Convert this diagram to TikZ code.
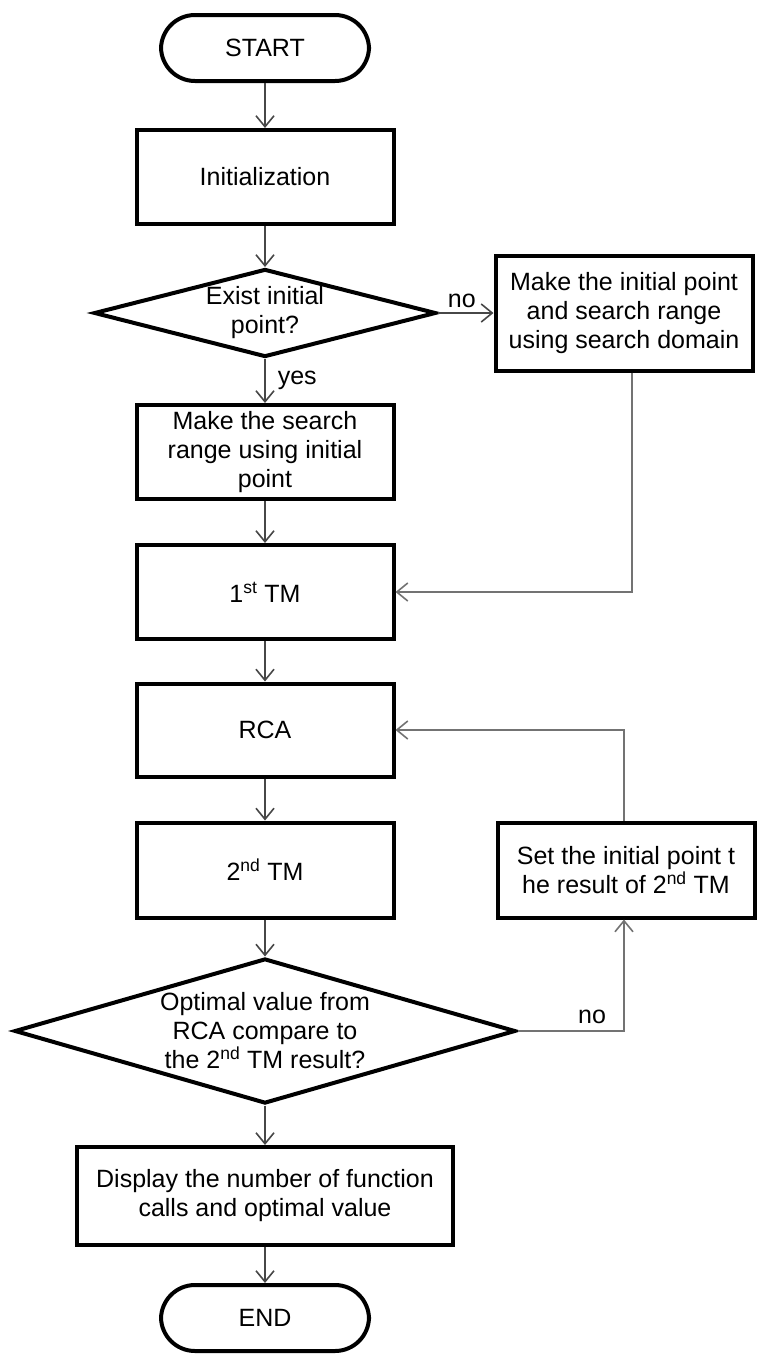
\documentclass[tikz,border=0pt]{standalone}
\usepackage{fontspec}
\setmainfont{Liberation Sans}
\usetikzlibrary{shapes.geometric,arrows.meta}
\tikzset{
  base/.style={draw=black, line width=4pt, font=\fontsize{25}{29}\selectfont, align=center, inner sep=0pt, text=black},
  procbox/.style={base, rectangle, minimum width=#1},
  procbox/.default=257pt,
  term/.style={base, rectangle, rounded corners=34pt, minimum width=208pt, minimum height=66pt},
  decision/.style={base, diamond},
  conn/.style={draw=black!72, line width=1.6pt, -{Straight Barb[length=11pt,width=18pt,line width=1.6pt]}},
  sideconn/.style={conn, draw=black!55},
  lbl/.style={font=\fontsize{25}{29}\selectfont, text=black, inner sep=0pt}
}
\begin{document}
\begin{tikzpicture}[x=1pt,y=-1pt]
\useasboundingbox (0,0) rectangle (759,1355);
\node[term] (start) at (265,48) {START};
\node[procbox, minimum height=94pt] (init) at (265,177) {Initialization};
\node[decision, aspect=3.76, minimum width=342pt, minimum height=88pt] (d1) at (265,313) {Exist initial\\point?};
\node[procbox, minimum height=115pt] (r1) at (624,313) {Make the initial point\\and search range\\using search domain};
\node[procbox, minimum height=94pt] (b2) at (265,452) {Make the search\\range using initial\\point};
\node[procbox, minimum height=94pt] (tm1) at (265,592) {1\textsuperscript{st} TM};
\node[procbox, minimum height=93pt] (rca) at (265,730) {RCA};
\node[procbox, minimum height=95pt] (tm2) at (265,870) {2\textsuperscript{nd} TM};
\node[procbox, minimum height=95pt] (r2) at (626,870) {Set the initial point t\\he result of 2\textsuperscript{nd} TM};
\node[decision, aspect=3.44, minimum width=501pt, minimum height=145pt] (d2) at (265,1031) {Optimal value from\\RCA compare to\\the 2\textsuperscript{nd} TM result?};
\node[procbox=376pt, minimum height=98pt] (disp) at (265,1196) {Display the number of function\\calls and optimal value};
\node[term] (end) at (265,1318) {END};

\draw[conn] (start) -- (init);
\draw[conn] (init) -- (d1);
\draw[conn] (d1) -- node[lbl, anchor=west, xshift=12pt, yshift=1pt] (yes) {yes} (b2);
\draw[conn] (d1.east) -- node[lbl, above, yshift=4pt, xshift=-4pt] (no1) {no} (r1.west);
\draw[conn] (b2) -- (tm1);
\draw[sideconn] ([xshift=8pt]r1.south) |- (tm1.east);
\draw[conn] (tm1) -- (rca);
\draw[conn] (rca) -- (tm2);
\draw[conn] (tm2) -- (d2);
\draw[sideconn] (d2.east) -| node[lbl, pos=0.35, above, yshift=6pt] (no2) {no} ([xshift=-2pt]r2.south);
\draw[sideconn] ([xshift=-2pt]r2.north) |- (rca.east);
\draw[conn] (d2) -- (disp);
\draw[conn] (disp) -- (end);
\end{tikzpicture}
\end{document}
